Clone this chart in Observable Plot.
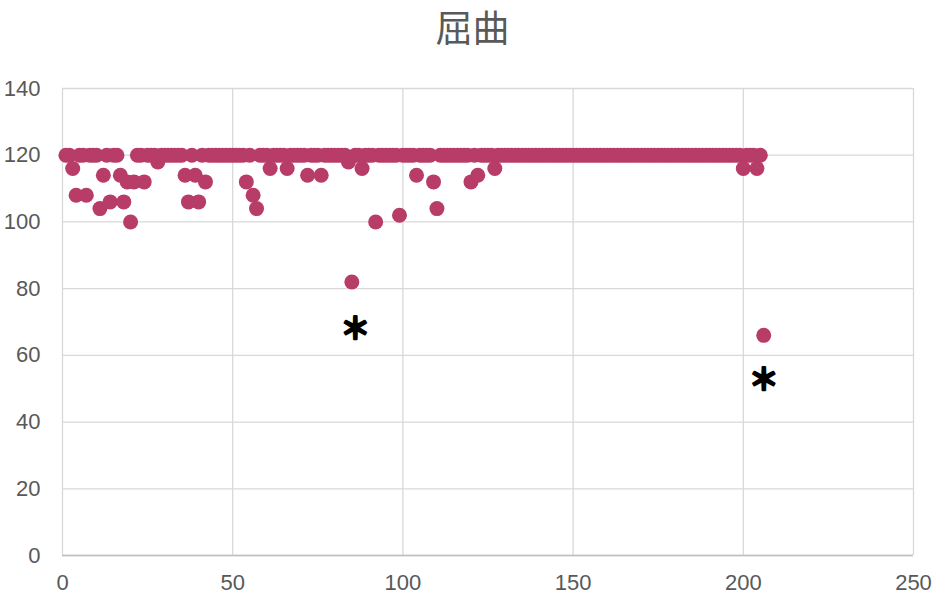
<!DOCTYPE html>
<html>
<head>
<meta charset="utf-8">
<script src="https://cdn.jsdelivr.net/npm/d3@7"></script>
<script src="https://cdn.jsdelivr.net/npm/@observablehq/plot@0.6"></script>
<style>
  html, body { margin: 0; padding: 0; background: #ffffff; }
</style>
</head>
<body>
<div id="chart"></div>
<script>
const titleText = ["屈曲"];
// Values for samples 1..206
const values = [
  120,120,116,108,120,120,108,120,120,120,
  104,114,120,106,120,120,114,106,112,100,
  112,120,120,112,120,120,120,118,120,120,
  120,120,120,120,120,114,106,120,114,106,
  120,112,120,120,120,120,120,120,120,120,
  120,120,120,112,120,108,104,120,120,120,
  116,120,120,120,120,116,120,120,120,120,
  120,114,120,120,120,114,120,120,120,120,
  120,120,120,118,82,120,120,116,120,120,
  120,100,120,120,120,120,120,120,102,120,
  120,120,120,114,120,120,120,120,112,104,
  120,120,120,120,120,120,120,120,120,112,
  120,114,120,120,120,120,116,120,120,120,
  120,120,120,120,120,120,120,120,120,120,
  120,120,120,120,120,120,120,120,120,120,
  120,120,120,120,120,120,120,120,120,120,
  120,120,120,120,120,120,120,120,120,120,
  120,120,120,120,120,120,120,120,120,120,
  120,120,120,120,120,120,120,120,120,120,
  120,120,120,120,120,120,120,120,120,116,
  120,120,120,116,120,66
];
const xTicks = [0, 50, 100, 150, 200, 250];
const yTicks = [0, 20, 40, 60, 80, 100, 120, 140];
// annotation marks (asterisks)
const annX = [86, 206];
const annY = [68.5, 53.2];
const annText = ["＊", "＊"];

const points = values.map((v, i) => ({ x: i + 1, y: v }));
const notes = annX.map((x, i) => ({ x, y: annY[i], t: annText[i] }));

const chart = Plot.plot({
  width: 944,
  height: 609,
  marginLeft: 62,
  marginRight: 31,
  marginTop: 88,
  marginBottom: 54,
  style: { fontFamily: "'Liberation Sans', Arial, sans-serif", fontSize: "22px", color: "#595959", background: "#ffffff", overflow: "visible" },
  x: { domain: [0, 250] },
  y: { domain: [0, 140] },
  marks: [
    Plot.gridX(xTicks, { stroke: "#d9d9d9", strokeOpacity: 1, strokeWidth: 1.3 }),
    Plot.gridY(yTicks, { stroke: "#d9d9d9", strokeOpacity: 1, strokeWidth: 1.3 }),
    Plot.ruleY([0], { stroke: "#bfbfbf", strokeWidth: 1.5 }),
    Plot.axisX(xTicks, { tickSize: 0, tickPadding: 19, label: null, fill: "#595959", fontSize: 22 }),
    Plot.axisY(yTicks, { tickSize: 0, tickPadding: 22, label: null, fill: "#595959", fontSize: 22 }),
    Plot.dot(points, { x: "x", y: "y", r: 7.5, fill: "#b83c68", stroke: null }),
    Plot.text(notes, { x: "x", y: "y", text: "t", fontSize: 30, fill: "#000000", stroke: "#000000", strokeWidth: 2.2, dy: 2,
      fontFamily: "'Noto Sans CJK JP', sans-serif", fontWeight: "bold" }),
    Plot.text(titleText, { text: (d) => d, frameAnchor: "top", dx: -15.5, dy: -73, fontSize: 37, fill: "#595959",
      fontFamily: "'Noto Sans CJK JP', sans-serif" })
  ]
});
document.getElementById("chart").appendChild(chart);
</script>
</body>
</html>
